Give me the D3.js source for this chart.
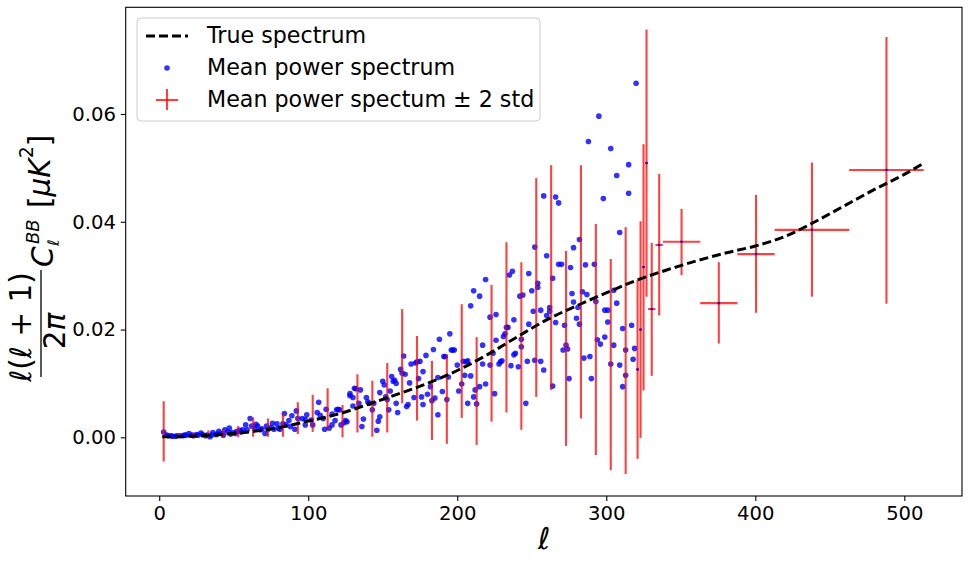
<!DOCTYPE html>
<html>
<head>
<meta charset="utf-8">
<script src="https://d3js.org/d3.v7.min.js"></script>
<style>
  body { margin: 0; background: #fff; }
  svg { display: block; }
  text { font-family: "DejaVu Sans", sans-serif; }
</style>
</head>
<body>
<svg id="chart" width="969" height="562"></svg>
<script>
// True spectrum
const trueEll = [2, 20, 40, 60, 80, 100, 120, 140, 160, 180, 200, 220, 240, 260, 280,
  300, 320, 340, 360, 380, 400, 420, 440, 460, 480, 500, 512];
const trueVal = [0.0001, 0.0002, 0.0005, 0.0010, 0.0018, 0.0030, 0.0043, 0.0061, 0.0080,
  0.0100, 0.0124, 0.0153, 0.0186, 0.0218, 0.0244, 0.0268, 0.0291, 0.0310, 0.0327, 0.0342,
  0.0355, 0.0373, 0.0400, 0.0430, 0.0460, 0.0488, 0.0507];

// Mean power spectrum per multipole [ell, value]
const meanPoints = [
  [3, 0.0010], [5, 0.0004], [6, 0.0003], [8, 0.0003], [9, 0.0002], [11, 0.0002], [12, 0.0003],
  [14, 0.0003], [16, 0.0003], [17, 0.0004], [18, 0.0004], [20, 0.0007], [22, 0.0004], [23, 0.0003],
  [25, 0.0005], [26, 0.0004], [28, 0.0008], [29, 0.0005], [31, 0.0003], [32, 0.0004], [34, 0.0001],
  [35, 0.0004], [36, 0.0009], [38, 0.0005], [39, 0.0006], [40, 0.0011], [42, 0.0007], [43, 0.0004],
  [44, 0.0014], [46, 0.0010], [47, 0.0017], [48, 0.0006], [49, 0.0009], [51, 0.0007], [52, 0.0011],
  [54, 0.0013], [55, 0.0010], [56, 0.0014], [58, 0.0023], [59, 0.0014], [61, 0.0035], [62, 0.0021],
  [64, 0.0016], [65, 0.0024], [66, 0.0021], [68, 0.0014], [69, 0.0016], [71, 0.0007], [72, 0.0021],
  [73, 0.0015], [75, 0.0018], [76, 0.0026], [77, 0.0015], [79, 0.0025], [80, 0.0017], [81, 0.0015],
  [83, 0.0025], [84, 0.0044], [85, 0.0023], [87, 0.0031], [88, 0.0020], [89, 0.0040], [91, 0.0015],
  [92, 0.0049], [93, 0.0035],
  [96, 0.0035], [98, 0.0033], [99, 0.0042], [98, 0.0023], [102, 0.0032], [103, 0.0023], [106, 0.0046],
  [107, 0.0065], [108, 0.0041], [110, 0.0035], [111, 0.0015], [112, 0.0052], [114, 0.0017], [116, 0.0043],
  [116, 0.0023], [118, 0.0031], [119, 0.0051], [120, 0.0052], [121, 0.0051], [122, 0.0023], [124, 0.0027],
  [125, 0.0031], [126, 0.0029], [128, 0.0077], [128, 0.0081], [130, 0.0058], [130, 0.0074], [131, 0.0091],
  [132, 0.0090], [134, 0.0063], [135, 0.0088], [136, 0.0020], [137, 0.0034], [139, 0.0074], [140, 0.0066],
  [141, 0.0063], [143, 0.0051], [144, 0.0063], [146, 0.0013], [147, 0.0030], [148, 0.0083], [148, 0.0038],
  [150, 0.0104], [151, 0.0097], [152, 0.0075], [153, 0.0070], [154, 0.0051], [155, 0.0086], [156, 0.0113],
  [157, 0.0104], [158, 0.0106], [159, 0.0100], [159, 0.0063], [160, 0.0046], [162, 0.0126], [163, 0.0119],
  [164, 0.0151], [165, 0.0117], [166, 0.0057], [167, 0.0061], [168, 0.0101], [169, 0.0136], [171, 0.0074],
  [172, 0.0138], [173, 0.0140], [174, 0.0109], [175, 0.0141], [176, 0.0075], [177, 0.0061], [177, 0.0122],
  [179, 0.0152], [180, 0.0080], [182, 0.0094], [183, 0.0068], [184, 0.0163], [185, 0.0073], [187, 0.0111],
  [187, 0.0042], [188, 0.0182], [190, 0.0085], [191, 0.0150], [192, 0.0150], [193, 0.0070], [194, 0.0112],
  [195, 0.0192], [196, 0.0162], [197, 0.0162], [198, 0.0162], [200, 0.0134], [201, 0.0086], [203, 0.0099],
  [204, 0.0141], [205, 0.0115], [206, 0.0140], [207, 0.0063], [207, 0.0142], [209, 0.0114], [209, 0.0244],
  [211, 0.0272], [211, 0.0075], [212, 0.0088], [213, 0.0062], [215, 0.0262], [215, 0.0094], [217, 0.0171],
  [217, 0.0136], [219, 0.0099], [219, 0.0293], [222, 0.0134], [222, 0.0223], [224, 0.0156], [225, 0.0081],
  [226, 0.0180], [226, 0.0228], [228, 0.0136],
  [229, 0.0140], [230, 0.0142], [231, 0.0187], [232, 0.0192], [233, 0.0204], [234, 0.0204], [235, 0.0301],
  [236, 0.0133], [237, 0.0308], [238, 0.0218], [238, 0.0153], [239, 0.0156], [241, 0.0131], [242, 0.0262],
  [243, 0.0182], [243, 0.0168], [244, 0.0264], [246, 0.0063], [247, 0.0141], [248, 0.0304], [248, 0.0210],
  [250, 0.0272], [251, 0.0234], [252, 0.0143], [252, 0.0353], [254, 0.0278], [254, 0.0286], [256, 0.0141],
  [256, 0.0236], [258, 0.0125], [258, 0.0448], [260, 0.0226], [260, 0.0337], [262, 0.0241], [262, 0.0234],
  [264, 0.0295], [264, 0.0095], [266, 0.0213], [266, 0.0446], [268, 0.0321], [268, 0.0435], [270, 0.0321],
  [271, 0.0162], [272, 0.0208], [273, 0.0171], [274, 0.0164], [275, 0.0109], [276, 0.0315], [277, 0.0267],
  [278, 0.0251], [278, 0.0352], [280, 0.0221], [281, 0.0241], [282, 0.0367], [282, 0.0210], [284, 0.0270],
  [285, 0.0147], [286, 0.0320], [287, 0.0265], [288, 0.0549], [289, 0.0150], [290, 0.0109], [292, 0.0321],
  [293, 0.0252], [294, 0.0181], [295, 0.0596], [296, 0.0173], [298, 0.0443], [299, 0.0186], [299, 0.0236],
  [301, 0.0214], [301, 0.0236], [303, 0.0136], [303, 0.0536], [305, 0.0171], [305, 0.0273], [307, 0.0249],
  [307, 0.0486], [309, 0.0134], [309, 0.0380], [311, 0.0094], [311, 0.0202], [313, 0.0115], [313, 0.0162],
  [315, 0.0506], [315, 0.0453], [317, 0.0208], [318, 0.0145], [319, 0.0165], [320, 0.0657]
];

// Binned mean with +/- 2 std error bars
const binEll = [3, 13, 23, 33, 43, 53, 63, 73, 83, 93, 103, 113, 123, 133, 143, 153, 163, 173, 183,
  193, 203, 213, 223, 233, 243, 253, 263, 273, 283, 293, 303, 313, 321, 323, 325, 327, 330.5, 335.5,
  350.5, 375.5, 400.5, 438, 488];
const binMean = [0.0011, 0.0004, 0.0004, 0.0006, 0.0007, 0.0010, 0.0019, 0.0018, 0.0023, 0.0035,
  0.0044, 0.0053, 0.0030, 0.0063, 0.0053, 0.0073, 0.0150, 0.0110, 0.0068, 0.0070, 0.0141, 0.0086,
  0.0156, 0.0204, 0.0170, 0.0278, 0.0296, 0.0165, 0.0270, 0.0181, 0.0135, 0.0161, 0.0126, 0.0200,
  0.0316, 0.0509, 0.0238, 0.0357, 0.0363, 0.0249, 0.0340, 0.0385, 0.0496];
const binLow = [-0.0045, 0.0001, 0.0000, -0.0001, 0.0000, 0.0000, 0.0001, 0.0001, 0.0001, 0.0006,
  0.0010, 0.0016, 0.0000, 0.0009, 0.0001, 0.0009, 0.0063, 0.0031, -0.0005, -0.0012, 0.0036, -0.0014,
  0.0029, 0.0046, 0.0014, 0.0075, 0.0088, -0.0016, 0.0035, -0.0033, -0.0061, -0.0068, -0.0040,
  -0.0001, 0.0087, 0.0261, 0.0114, 0.0226, 0.0301, 0.0174, 0.0231, 0.0261, 0.0248];
const binHigh = [0.0067, 0.0007, 0.0009, 0.0013, 0.0015, 0.0021, 0.0037, 0.0035, 0.0045, 0.0065,
  0.0079, 0.0091, 0.0060, 0.0117, 0.0105, 0.0138, 0.0238, 0.0188, 0.0142, 0.0153, 0.0247, 0.0186,
  0.0283, 0.0362, 0.0325, 0.0481, 0.0505, 0.0346, 0.0505, 0.0396, 0.0331, 0.0390, 0.0292, 0.0401,
  0.0544, 0.0757, 0.0361, 0.0489, 0.0424, 0.0325, 0.0450, 0.0510, 0.0743];
const binHalfWidth = [0, 0, 0, 0, 0, 0, 0, 0, 0, 0, 0, 0, 0, 0, 0, 0, 0, 0, 0, 0, 0, 0, 0, 0, 0,
  0, 0, 0, 0, 0, 0, 0, 1, 1, 1, 1, 2.5, 2.5, 12.5, 12.5, 12.5, 25, 25];

const xTicks = [0, 100, 200, 300, 400, 500];
const yTicks = [0.00, 0.02, 0.04, 0.06];

// Plot area
const plotLeft = 125.7, plotRight = 962, plotTop = 7.3, plotBottom = 496;

const svg = d3.select('#chart');

const x = d3.scaleLinear().domain([-22.5, 538.7]).range([plotLeft, plotRight]);
const y = d3.scaleLinear().domain([-0.01089, 0.0798]).range([plotBottom, plotTop]);

// Scatter of per-multipole means
svg.append('g')
  .selectAll('circle')
  .data(meanPoints)
  .enter()
  .append('circle')
  .attr('cx', d => x(d[0]))
  .attr('cy', d => y(d[1]))
  .attr('r', 2.8)
  .attr('fill', 'blue')
  .attr('fill-opacity', 0.8);

// Error bars
const bins = binEll.map((ell, i) => ({
  ell, mean: binMean[i], lo: binLow[i], hi: binHigh[i], hw: binHalfWidth[i]
}));

const eb = svg.append('g')
  .attr('stroke', 'red')
  .attr('stroke-opacity', 0.75)
  .attr('stroke-width', 2.1);

eb.selectAll('.vbar')
  .data(bins)
  .enter()
  .append('line')
  .attr('class', 'vbar')
  .attr('x1', d => x(d.ell))
  .attr('x2', d => x(d.ell))
  .attr('y1', d => y(d.lo))
  .attr('y2', d => y(d.hi));

eb.selectAll('.hbar')
  .data(bins.filter(d => d.hw > 0))
  .enter()
  .append('line')
  .attr('class', 'hbar')
  .attr('x1', d => x(d.ell - d.hw))
  .attr('x2', d => x(d.ell + d.hw))
  .attr('y1', d => y(d.mean))
  .attr('y2', d => y(d.mean));

svg.append('g')
  .selectAll('circle')
  .data(bins.filter(d => d.hw > 0))
  .enter()
  .append('circle')
  .attr('cx', d => x(d.ell))
  .attr('cy', d => y(d.mean))
  .attr('r', 1.3)
  .attr('fill', 'blue')
  .attr('fill-opacity', 0.8);

// True spectrum
const line = d3.line()
  .x((d, i) => x(trueEll[i]))
  .y(d => y(d))
  .curve(d3.curveMonotoneX);

svg.append('path')
  .datum(trueVal)
  .attr('d', line)
  .attr('fill', 'none')
  .attr('stroke', 'black')
  .attr('stroke-width', 3)
  .attr('stroke-dasharray', '9,4');

// Axes
const xAxis = svg.append('g')
  .attr('transform', `translate(0,${plotBottom})`)
  .call(d3.axisBottom(x).tickValues(xTicks).tickSize(4.9).tickPadding(4.9).tickSizeOuter(0));
const yAxis = svg.append('g')
  .attr('transform', `translate(${plotLeft},0)`)
  .call(d3.axisLeft(y).tickValues(yTicks).tickFormat(d3.format('.2f'))
    .tickSize(4.9).tickPadding(4.9).tickSizeOuter(0));

[xAxis, yAxis].forEach(a => {
  a.select('.domain').remove();
  a.selectAll('.tick line').attr('stroke', 'black').attr('stroke-width', 1.1);
  a.selectAll('.tick text')
    .attr('fill', 'black')
    .style('font-size', '19.6px')
    .style('font-family', '"DejaVu Sans", sans-serif');
});

svg.append('rect')
  .attr('x', plotLeft)
  .attr('y', plotTop)
  .attr('width', plotRight - plotLeft)
  .attr('height', plotBottom - plotTop)
  .attr('fill', 'none')
  .attr('stroke', 'black')
  .attr('stroke-width', 1.1);

// x label
svg.append('text')
  .attr('x', (plotLeft + plotRight) / 2)
  .attr('y', 549)
  .attr('text-anchor', 'middle')
  .style('font-size', '30px')
  .style('font-style', 'italic')
  .text('ℓ');

// y label: l(l+1)/(2pi) C_l^BB [uK^2], rotated
const yl = svg.append('g').attr('transform', 'translate(0,377) rotate(-90)');

const num = yl.append('text')
  .attr('x', 50).attr('y', 31)
  .attr('text-anchor', 'middle')
  .style('font-size', '29.5px');
num.append('tspan').style('font-style', 'italic').text('ℓ');
num.append('tspan').text('(');
num.append('tspan').style('font-style', 'italic').text('ℓ');
num.append('tspan').text(' + 1)');

yl.append('line')
  .attr('x1', 0).attr('x2', 107)
  .attr('y1', 41).attr('y2', 41)
  .attr('stroke', 'black')
  .attr('stroke-width', 1.3);

const den = yl.append('text')
  .attr('x', 46).attr('y', 65)
  .attr('text-anchor', 'middle')
  .style('font-size', '29.5px');
den.append('tspan').text('2');
den.append('tspan').style('font-style', 'italic').text('π');

yl.append('text')
  .attr('x', 110).attr('y', 53)
  .style('font-size', '29.5px')
  .style('font-style', 'italic')
  .text('C');
yl.append('text')
  .attr('x', 133).attr('y', 39)
  .style('font-size', '18px')
  .style('font-style', 'italic')
  .text('BB');
yl.append('text')
  .attr('x', 131).attr('y', 59)
  .style('font-size', '16px')
  .style('font-style', 'italic')
  .text('ℓ');

const units = yl.append('text')
  .attr('x', 169).attr('y', 50)
  .style('font-size', '29.5px');
units.append('tspan').text('[');
units.append('tspan').style('font-style', 'italic').text('μK');
units.append('tspan').attr('dy', -17).style('font-size', '19px').text('2');
units.append('tspan').attr('dy', 17).text(']');

// Legend
const legend = svg.append('g');
legend.append('rect')
  .attr('x', 137).attr('y', 18)
  .attr('width', 403).attr('height', 103)
  .attr('rx', 4)
  .attr('fill', 'white')
  .attr('fill-opacity', 0.8)
  .attr('stroke', '#cccccc')
  .attr('stroke-width', 1);

legend.append('line')
  .attr('x1', 146).attr('x2', 188)
  .attr('y1', 36).attr('y2', 36)
  .attr('stroke', 'black')
  .attr('stroke-width', 3)
  .attr('stroke-dasharray', '9,4');

legend.append('circle')
  .attr('cx', 167).attr('cy', 68)
  .attr('r', 2.8)
  .attr('fill', 'blue')
  .attr('fill-opacity', 0.8);

const cross = legend.append('g')
  .attr('stroke', 'red')
  .attr('stroke-opacity', 0.75)
  .attr('stroke-width', 2.1);
cross.append('line').attr('x1', 156).attr('x2', 178).attr('y1', 100).attr('y2', 100);
cross.append('line').attr('x1', 167).attr('x2', 167).attr('y1', 89).attr('y2', 110);

const legendLabels = ['True spectrum', 'Mean power spectrum', 'Mean power spectum ± 2 std'];
const legendBase = [43, 75, 107];
legend.selectAll('.ltext')
  .data(legendLabels)
  .enter()
  .append('text')
  .attr('class', 'ltext')
  .attr('x', 207)
  .attr('y', (d, i) => legendBase[i])
  .style('font-size', '22.2px')
  .text(d => d);
</script>
</body>
</html>
